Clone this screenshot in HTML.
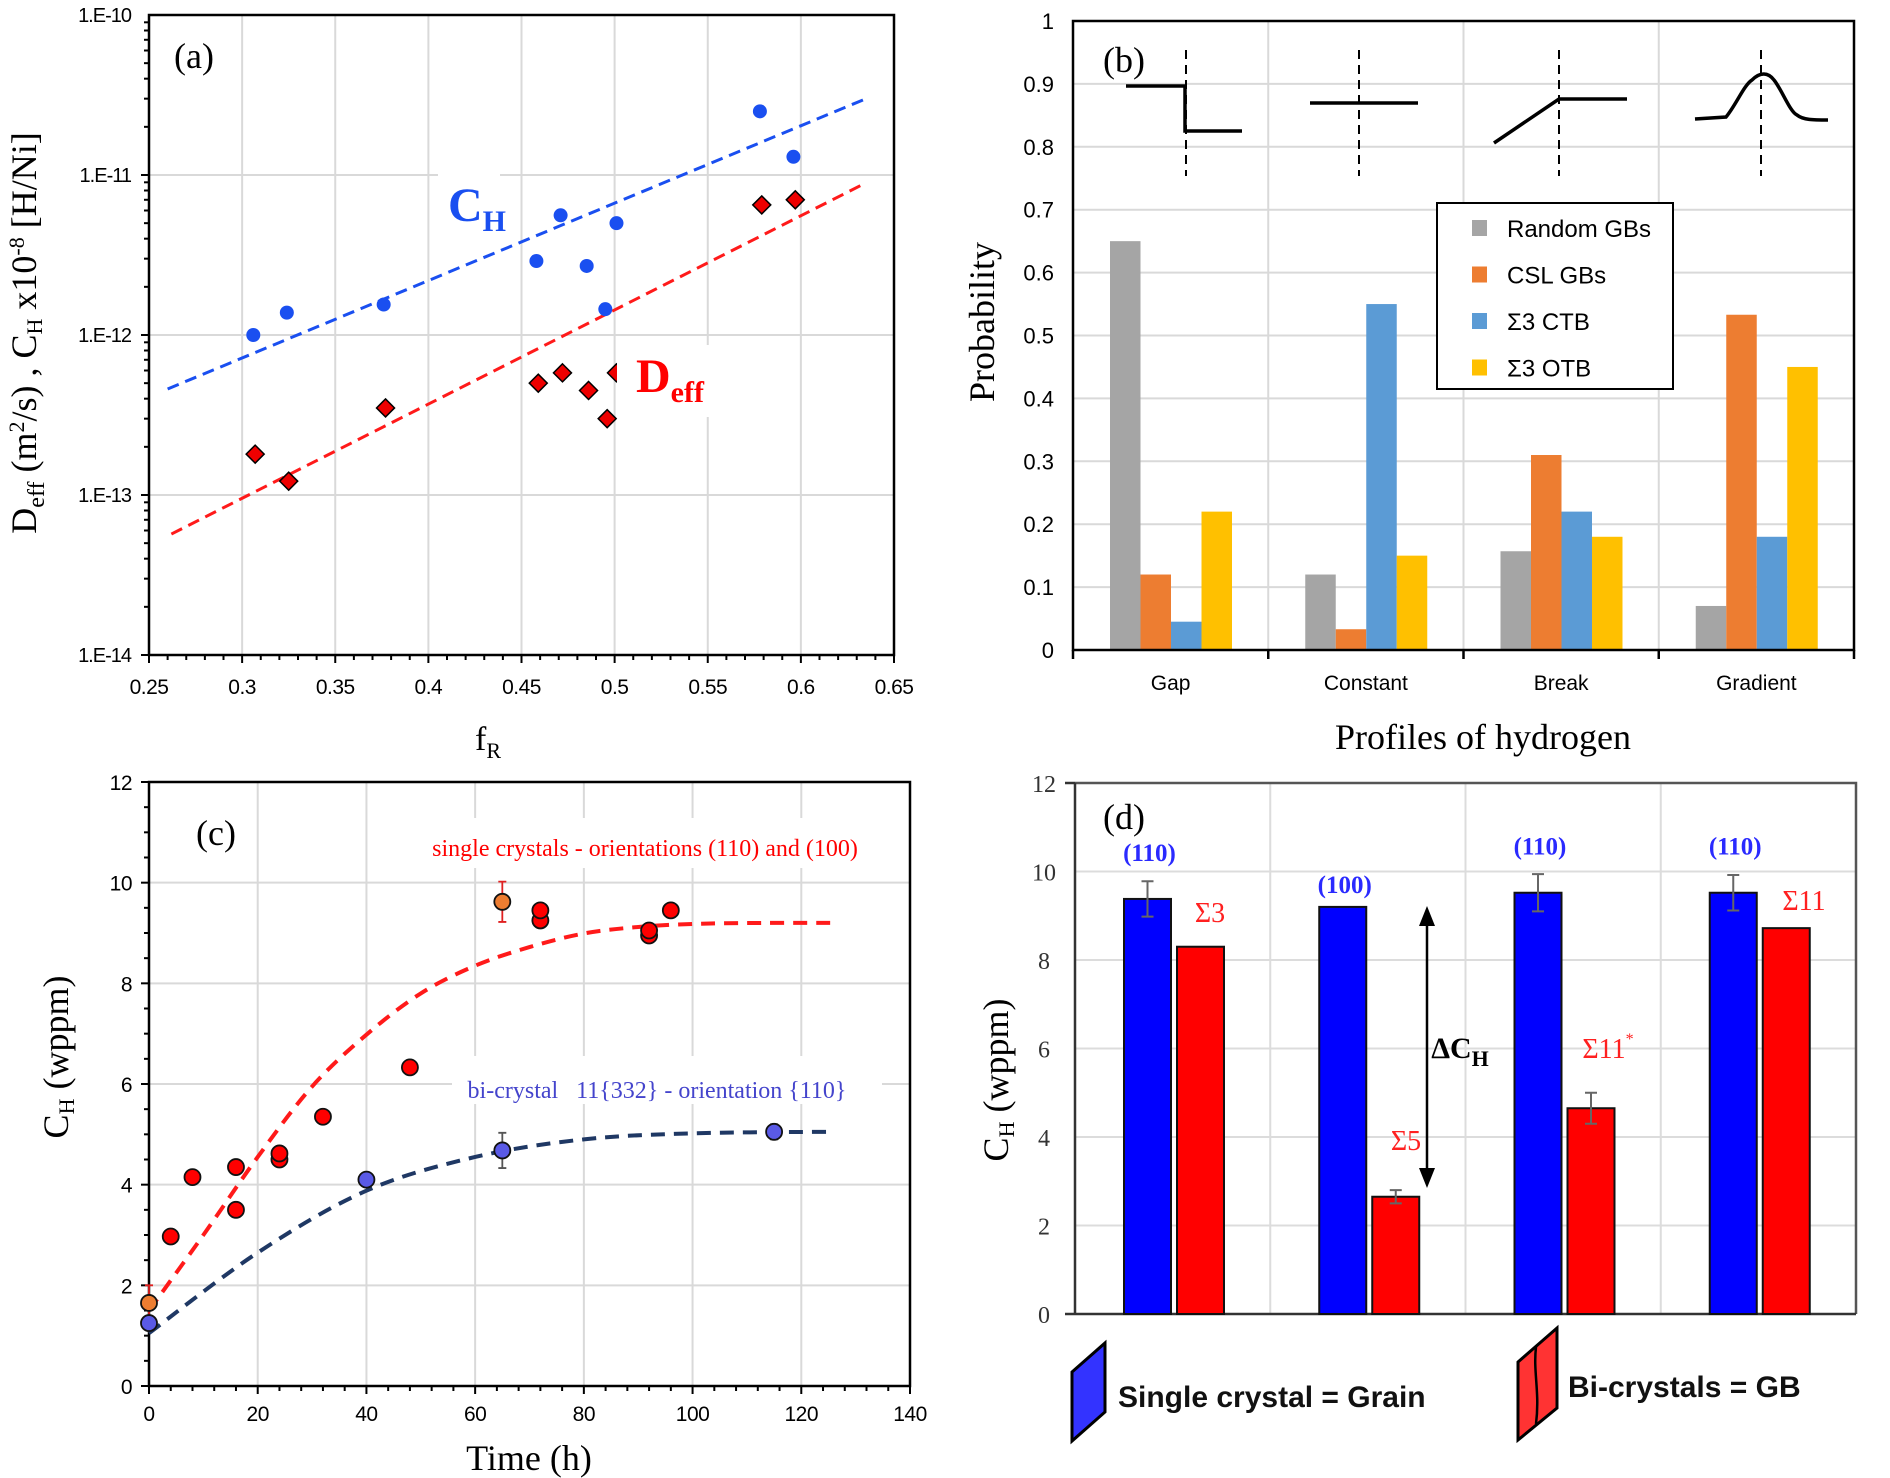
<!DOCTYPE html>
<html><head><meta charset="utf-8">
<style>
html,body{margin:0;padding:0;background:#fff;}
svg{display:block;}
.serif{font-family:"Liberation Serif","DejaVu Serif",serif;}
.sans{font-family:"Liberation Sans","DejaVu Sans",sans-serif;}
</style></head>
<body>
<svg id="fig" xmlns="http://www.w3.org/2000/svg" width="1890" height="1478" viewBox="0 0 1890 1478">
<rect x="0" y="0" width="1890" height="1478" fill="#fff"/>
<g id="pa"></g>
<g id="pb"></g>
<g id="pc"></g>
<g id="pd"></g>

<!-- static texts panel a -->
<text class="serif" x="194" y="68" font-size="36" text-anchor="middle">(a)</text>
<text class="serif" x="488" y="750" font-size="34" text-anchor="middle">f<tspan font-size="22" dy="8">R</tspan></text>
<text class="serif" transform="translate(36,333) rotate(-90)" font-size="36" text-anchor="middle">D<tspan font-size="24" dy="8">eff</tspan><tspan dy="-8"> (m</tspan><tspan font-size="22" dy="-12">2</tspan><tspan dy="12">/s)  , C</tspan><tspan font-size="22" dy="6">H</tspan><tspan dy="-6"> x10</tspan><tspan font-size="22" dy="-12">-8</tspan><tspan dy="12"> [H/Ni]</tspan></text>
<text class="serif" x="448" y="221" font-size="48" font-weight="bold" fill="#1a4ff0">C<tspan font-size="30" dy="10">H</tspan></text>
<text class="serif" x="636" y="392" font-size="48" font-weight="bold" fill="#ff0000">D<tspan font-size="30" dy="10">eff</tspan></text>

<!-- static texts panel b -->
<text class="serif" x="1124" y="72" font-size="36" text-anchor="middle">(b)</text>
<text class="serif" transform="translate(994,322) rotate(-90)" font-size="36" text-anchor="middle">Probability</text>
<text class="serif" x="1483" y="749" font-size="36" text-anchor="middle">Profiles of hydrogen</text>

<!-- static texts panel c -->
<text class="serif" x="216" y="845" font-size="36" text-anchor="middle">(c)</text>
<text class="serif" x="645" y="867" font-size="24" fill="#ff0000" text-anchor="middle" id="redlab">single crystals - orientations (110) and (100)</text>
<text class="serif" x="657" y="1107" font-size="24" fill="#4444cc" text-anchor="middle" xml:space="preserve" id="bluelab">bi-crystal   11{332} - orientation {110}</text>
<text class="serif" x="529" y="1470" font-size="36" text-anchor="middle">Time (h)</text>
<text class="serif" transform="translate(68,1057) rotate(-90)" font-size="36" text-anchor="middle">C<tspan font-size="22" dy="6">H</tspan><tspan dy="-6"> (wppm)</tspan></text>

<!-- static texts panel d -->
<text class="serif" x="1124" y="829" font-size="36" text-anchor="middle">(d)</text>
<text class="serif" transform="translate(1008,1080) rotate(-90)" font-size="36" text-anchor="middle">C<tspan font-size="22" dy="6">H</tspan><tspan dy="-6"> (wppm)</tspan></text>
<text class="serif" x="1460" y="1058" font-size="30" font-weight="bold" text-anchor="middle">ΔC<tspan font-size="22" dy="8">H</tspan></text>
<g>
<line x1="1427" y1="918" x2="1427" y2="1175" stroke="#000" stroke-width="2.5"/>
<polygon points="1427,906 1419,926 1435,926" fill="#000"/>
<polygon points="1427,1188 1419,1168 1435,1168" fill="#000"/>
</g>
<g>
<polygon points="1072,1372 1105,1343 1105,1412 1072,1441" fill="#3333ff" stroke="#000" stroke-width="3"/>
<text class="sans" x="1118" y="1407" font-size="30" font-weight="bold" fill="#111">Single crystal = Grain</text>
</g>
<g>
<polygon points="1518,1362 1557,1328 1557,1408 1518,1440" fill="#ff3333" stroke="#000" stroke-width="3"/>
<path d="M1536,1347 C1533,1372 1540,1392 1536,1424" fill="none" stroke="#000" stroke-width="2.5"/>
<text class="sans" x="1568" y="1397" font-size="30" font-weight="bold" fill="#111">Bi-crystals = GB</text>
</g>
</svg>

<script>
// ---------- Panel (a) data ----------
const aChX = [0.306, 0.324, 0.376, 0.458, 0.471, 0.485, 0.495, 0.501, 0.578, 0.596];
const aChY = [1.0e-12, 1.38e-12, 1.55e-12, 2.9e-12, 5.6e-12, 2.7e-12, 1.45e-12, 5.0e-12, 2.5e-11, 1.3e-11];
const aDeffX = [0.307, 0.325, 0.377, 0.459, 0.472, 0.486, 0.496, 0.501, 0.579, 0.597];
const aDeffY = [1.8e-13, 1.22e-13, 3.5e-13, 5.0e-13, 5.8e-13, 4.5e-13, 3.0e-13, 5.8e-13, 6.5e-12, 7.0e-12];
const aChFitX = [0.26, 0.635];
const aChFitY = [4.6e-13, 3.0e-11];
const aDeffFitX = [0.262, 0.633];
const aDeffFitY = [5.7e-14, 8.7e-12];
const aXTicks = [0.25, 0.3, 0.35, 0.4, 0.45, 0.5, 0.55, 0.6, 0.65];
const aXTickLabels = ["0.25","0.3","0.35","0.4","0.45","0.5","0.55","0.6","0.65"];
const aYTickExp = [-14, -13, -12, -11, -10];
const aYTickLabels = ["1.E-14","1.E-13","1.E-12","1.E-11","1.E-10"];

// ---------- Panel (b) data ----------
const bCategories = ["Gap", "Constant", "Break", "Gradient"];
const bSeriesNames = ["Random GBs", "CSL GBs", "Σ3 CTB", "Σ3 OTB"];
const bRandom = [0.65, 0.12, 0.157, 0.07];
const bCSL = [0.12, 0.033, 0.31, 0.533];
const bCTB = [0.045, 0.55, 0.22, 0.18];
const bOTB = [0.22, 0.15, 0.18, 0.45];
const bYTicks = [0, 0.1, 0.2, 0.3, 0.4, 0.5, 0.6, 0.7, 0.8, 0.9, 1];
const bYTickLabels = ["0","0.1","0.2","0.3","0.4","0.5","0.6","0.7","0.8","0.9","1"];

// ---------- Panel (c) data ----------
const cRedT = [4, 8, 16, 16, 24, 24, 32, 48, 72, 72, 92, 92, 96];
const cRedV = [2.97, 4.15, 4.35, 3.5, 4.5, 4.62, 5.35, 6.33, 9.25, 9.45, 8.95, 9.05, 9.45];
const cOrangeT = [0, 65];
const cOrangeV = [1.65, 9.62];
const cOrangeErr = [0.35, 0.4];
const cBlueT = [0, 40, 65, 115];
const cBlueV = [1.25, 4.1, 4.68, 5.05];
const cBlueErr = [0, 0, 0.35, 0.15];
const cRedFitT = [0, 10, 20, 30, 40, 50, 60, 70, 80, 90, 100, 113, 126];
const cRedFitV = [1.5, 3.0, 4.55, 5.95, 6.98, 7.8, 8.35, 8.72, 8.99, 9.12, 9.18, 9.2, 9.2];
const cBlueFitT = [0, 20, 40, 60, 80, 100, 125];
const cBlueFitV = [1.05, 2.65, 3.88, 4.55, 4.9, 5.02, 5.05];
const cXTicks = [0, 20, 40, 60, 80, 100, 120, 140];
const cYTicks = [0, 2, 4, 6, 8, 10, 12];

// ---------- Panel (d) data ----------
const dGroups = ["Σ3", "Σ5", "Σ11*", "Σ11"];
const dOrient = ["(110)", "(100)", "(110)", "(110)"];
const dSingle = [9.38, 9.2, 9.52, 9.52];
const dSingleErr = [0.4, 0, 0.42, 0.4];
const dBi = [8.3, 2.65, 4.65, 8.72];
const dBiErr = [0, 0.15, 0.35, 0];
const dYTicks = [0, 2, 4, 6, 8, 10, 12];

const NS = "http://www.w3.org/2000/svg";
function mk(tag, attrs, parent) {
  const e = document.createElementNS(NS, tag);
  for (const k in attrs) e.setAttribute(k, attrs[k]);
  parent.appendChild(e);
  return e;
}
function smooth(pts) {
  let d = "M" + pts[0][0] + "," + pts[0][1];
  for (let i = 0; i < pts.length - 1; i++) {
    const p0 = pts[Math.max(0, i - 1)], p1 = pts[i], p2 = pts[i + 1], p3 = pts[Math.min(pts.length - 1, i + 2)];
    const c1x = p1[0] + (p2[0] - p0[0]) / 6, c1y = p1[1] + (p2[1] - p0[1]) / 6;
    const c2x = p2[0] - (p3[0] - p1[0]) / 6, c2y = p2[1] - (p3[1] - p1[1]) / 6;
    d += " C" + c1x + "," + c1y + " " + c2x + "," + c2y + " " + p2[0] + "," + p2[1];
  }
  return d;
}

// ================= Panel A =================
(function () {
  const g = document.getElementById("pa");
  const L = 149, R = 894, B = 655, DEC = 160;
  const xa = v => L + (v - 0.25) / 0.4 * (R - L);
  const ya = v => B - (Math.log10(v) + 14) * DEC;
  const yTop = B - 4 * DEC;
  aXTicks.forEach((t, i) => {
    if (i > 0 && i < aXTicks.length - 1) {
      const ln = mk("line", {x1: xa(t), x2: xa(t), y1: yTop, y2: B, stroke: "#d9d9d9", "stroke-width": 2}, g);
      
      
    }
  });
  aYTickExp.forEach((e, i) => {
    if (i > 0 && i < aYTickExp.length - 1) {
      const ln = mk("line", {x1: L, x2: R, y1: ya(Math.pow(10, e)), y2: ya(Math.pow(10, e)), stroke: "#d9d9d9", "stroke-width": 2}, g);
      
      
    }
  });
  const wb = mk("rect", {x: 438, y: 168, width: 62, height: 70, fill: "#fff"}, g);
  
  
  const wb2 = mk("rect", {x: 617, y: 345, width: 100, height: 72, fill: "#fff"}, g);
  
  
  const fr = mk("rect", {x: L, y: yTop, width: R - L, height: B - yTop, fill: "none", stroke: "#000", "stroke-width": 2.5}, g);
  
  
  for (let v = 0.25; v <= 0.6501; v += 0.01) {
    const major = Math.abs(v * 20 - Math.round(v * 20)) < 1e-6;
    const t = mk("line", {x1: xa(v), x2: xa(v), y1: B, y2: B + (major ? 8 : 5), stroke: "#000", "stroke-width": 2}, g);
    
    
  }
  for (let e = -14; e < -10; e++) {
    for (let m = 1; m < 10; m++) {
      const yy = ya(m * Math.pow(10, e));
      const t = mk("line", {x1: L - (m === 1 ? 8 : 5), x2: L, y1: yy, y2: yy, stroke: "#000", "stroke-width": 2}, g);
      
      
    }
  }
  aXTickLabels.forEach((s, i) => {
    const t = mk("text", {x: xa(aXTicks[i]), y: 694, "font-size": 21, "text-anchor": "middle", "font-family": "Liberation Sans, sans-serif", "letter-spacing": "-0.5"}, g);
    t.textContent = s;
    
    
  });
  aYTickLabels.forEach((s, i) => {
    const t = mk("text", {x: 131, y: ya(Math.pow(10, aYTickExp[i])) + 7, "font-size": 20, "text-anchor": "end", "font-family": "Liberation Sans, sans-serif", "letter-spacing": "-1"}, g);
    t.textContent = s;
    
    
  });
  const f1 = mk("line", {x1: xa(aChFitX[0]), y1: ya(aChFitY[0]), x2: xa(aChFitX[1]), y2: ya(aChFitY[1]), stroke: "#1a4ff0", "stroke-width": 3, "stroke-dasharray": "12,7"}, g);
  
  
  const f2 = mk("line", {x1: xa(aDeffFitX[0]), y1: ya(aDeffFitY[0]), x2: xa(aDeffFitX[1]), y2: ya(aDeffFitY[1]), stroke: "#ff1a1a", "stroke-width": 3, "stroke-dasharray": "12,7"}, g);
  
  
  aChX.forEach((x, i) => {
    const c = mk("circle", {cx: xa(x), cy: ya(aChY[i]), r: 7, fill: "#1a4ff0"}, g);
    
    
  });
  aDeffX.forEach((x, i) => {
    const cx = xa(x), cy = ya(aDeffY[i]), s = 9;
    const p = mk("polygon", {points: cx + "," + (cy - s) + " " + (cx + s) + "," + cy + " " + cx + "," + (cy + s) + " " + (cx - s) + "," + cy, fill: "#ee0000", stroke: "#000", "stroke-width": 1.5}, g);
    
    
  });
  // label mask over partially hidden point
  const wb3 = mk("rect", {x: 617, y: 360, width: 10, height: 30, fill: "#fff"}, g);
  
  
})();

// ================= Panel B =================
(function () {
  const g = document.getElementById("pb");
  const L = 1073, R = 1854, B = 650, T = 21;
  const yb = v => B - v * (B - T);
  const gw = (R - L) / bCategories.length, bw = 30.5, off = 37;
  const colors = ["#a5a5a5", "#ed7d31", "#5b9bd5", "#ffc000"];
  const series = [bRandom, bCSL, bCTB, bOTB];
  bYTicks.forEach((v, i) => {
    if (i > 0) {
      const ln = mk("line", {x1: L, x2: R, y1: yb(v), y2: yb(v), stroke: "#d9d9d9", "stroke-width": 2}, g);
      
      
    }
    const t = mk("text", {x: 1054, y: yb(v) + 8, "font-size": 22, "text-anchor": "end", "font-family": "Liberation Sans, sans-serif"}, g);
    t.textContent = bYTickLabels[i];
    
    
  });
  for (let k = 1; k < bCategories.length; k++) {
    const ln = mk("line", {x1: L + k * gw, x2: L + k * gw, y1: T, y2: B, stroke: "#d9d9d9", "stroke-width": 2}, g);
    
    
  }
  bCategories.forEach((c, k) => {
    series.forEach((s, j) => {
      const r = mk("rect", {x: L + k * gw + off + j * bw, y: yb(s[k]), width: bw, height: B - yb(s[k]), fill: colors[j]}, g);
      
      
    });
    const t = mk("text", {x: L + k * gw + gw / 2, y: 690, "font-size": 21, "text-anchor": "middle", "font-family": "Liberation Sans, sans-serif"}, g);
    t.textContent = c;
    
    
  });
  const fr = mk("rect", {x: L, y: T, width: R - L, height: B - T, fill: "none", stroke: "#000", "stroke-width": 2.5}, g);
  
  
  for (let k = 0; k <= bCategories.length; k++) {
    const t = mk("line", {x1: L + k * gw, x2: L + k * gw, y1: B, y2: B + 9, stroke: "#000", "stroke-width": 2.5}, g);
    
    
  }
  const icons = [
    ["M1126,86 L1185,86 L1185,131 L1242,131", 1186],
    ["M1310,103 L1418,103", 1359],
    ["M1494,143 L1559,99 L1627,99", 1559],
    ["M1695,119 L1726,117 C1736,105 1744,85 1752,80 C1760,72 1768,72 1774,80 C1782,90 1790,112 1797,115 C1803,120 1813,120 1828,120", 1761]
  ];
  icons.forEach((ic, k) => {
    const d = mk("line", {x1: ic[1], x2: ic[1], y1: 50, y2: 176, stroke: "#000", "stroke-width": 2, "stroke-dasharray": "9,6"}, g);
    
    
    const p = mk("path", {d: ic[0], fill: "none", stroke: "#000", "stroke-width": 3.5}, g);
    
    
  });
  const lg = mk("g", {}, g);
  
  
  const box = mk("rect", {x: 1437, y: 203, width: 236, height: 186, fill: "#fff", stroke: "#000", "stroke-width": 2}, lg);
  
  
  bSeriesNames.forEach((n, j) => {
    const y = 228 + j * 46.5;
    const sw = mk("rect", {x: 1472, y: y - 8, width: 15, height: 16, fill: colors[j]}, lg);
    
    
    const t = mk("text", {x: 1507, y: y + 9, "font-size": 24, "font-family": "Liberation Sans, sans-serif"}, lg);
    t.textContent = n;
    
    
  });
})();

// ================= Panel C =================
(function () {
  const g = document.getElementById("pc");
  const L = 149, R = 910, B = 1386, T = 782;
  const xc = t => L + t / 140 * (R - L);
  const yc = v => B - v / 12 * (B - T);
  cXTicks.forEach((t, i) => {
    if (i > 0 && i < cXTicks.length - 1) {
      const ln = mk("line", {x1: xc(t), x2: xc(t), y1: T, y2: B, stroke: "#d9d9d9", "stroke-width": 2}, g);
      
      
    }
    const tx = mk("text", {x: xc(t), y: 1421, "font-size": 21, "text-anchor": "middle", "font-family": "Liberation Sans, sans-serif", "letter-spacing": "-0.5"}, g);
    tx.textContent = String(t);
    
    
  });
  cYTicks.forEach((v, i) => {
    if (i > 0 && i < cYTicks.length - 1) {
      const ln = mk("line", {x1: L, x2: R, y1: yc(v), y2: yc(v), stroke: "#d9d9d9", "stroke-width": 2}, g);
      
      
    }
    const tx = mk("text", {x: 132, y: yc(v) + 8, "font-size": 21, "text-anchor": "end", "font-family": "Liberation Sans, sans-serif", "letter-spacing": "-0.5"}, g);
    tx.textContent = String(v);
    
    
  });
  const m1 = mk("rect", {x: 422, y: 818, width: 478, height: 50, fill: "#fff"}, g);
  
  
  const m2 = mk("rect", {x: 452, y: 1056, width: 430, height: 48, fill: "#fff"}, g);
  
  
  const fr = mk("rect", {x: L, y: T, width: R - L, height: B - T, fill: "none", stroke: "#000", "stroke-width": 2.5}, g);
  
  
  for (let t = 0; t <= 140; t += 4) {
    const tk = mk("line", {x1: xc(t), x2: xc(t), y1: B, y2: B + (t % 20 === 0 ? 8 : 5), stroke: "#000", "stroke-width": 2}, g);
    
    
  }
  for (let v = 0; v <= 12.001; v += 0.5) {
    const tk = mk("line", {x1: L - (v % 2 === 0 ? 8 : 5), x2: L, y1: yc(v), y2: yc(v), stroke: "#000", "stroke-width": 2}, g);
    
    
  }
  const rf = mk("path", {d: smooth(cRedFitT.map((t, i) => [xc(t), yc(cRedFitV[i])])), fill: "none", stroke: "#ff1a1a", "stroke-width": 4, "stroke-dasharray": "14,9"}, g);
  
  
  const bf = mk("path", {d: smooth(cBlueFitT.map((t, i) => [xc(t), yc(cBlueFitV[i])])), fill: "none", stroke: "#1f3864", "stroke-width": 4, "stroke-dasharray": "14,9"}, g);
  
  
  function errbar(t, v, e, col) {
    if (!e) return;
    const x = xc(t);
    const l = mk("path", {d: "M" + x + "," + yc(v + e) + " L" + x + "," + yc(v - e) + " M" + (x - 4) + "," + yc(v + e) + " L" + (x + 4) + "," + yc(v + e) + " M" + (x - 4) + "," + yc(v - e) + " L" + (x + 4) + "," + yc(v - e), stroke: col, "stroke-width": 1.8, fill: "none"}, g);
    
    
  }
  cOrangeT.forEach((t, i) => errbar(t, cOrangeV[i], cOrangeErr[i], "#e02020"));
  cBlueT.forEach((t, i) => errbar(t, cBlueV[i], cBlueErr[i], "#555"));
  cRedT.forEach((t, i) => {
    const c = mk("circle", {cx: xc(t), cy: yc(cRedV[i]), r: 8, fill: "#ff0000", stroke: "#111", "stroke-width": 1.8}, g);
    
    
  });
  cOrangeT.forEach((t, i) => {
    const c = mk("circle", {cx: xc(t), cy: yc(cOrangeV[i]), r: 8, fill: "#ed7d31", stroke: "#111", "stroke-width": 1.8}, g);
    
    
  });
  cBlueT.forEach((t, i) => {
    const c = mk("circle", {cx: xc(t), cy: yc(cBlueV[i]), r: 8, fill: "#5a5ae6", stroke: "#111", "stroke-width": 1.8}, g);
    
    
  });
  // move static labels above masks
  const svg = document.getElementById("fig");
  const rl = document.getElementById("redlab");
  rl.setAttribute("y", 856);
  svg.appendChild(rl);
  const bl = document.getElementById("bluelab");
  bl.setAttribute("y", 1098);
  svg.appendChild(bl);
})();

// ================= Panel D =================
(function () {
  const g = document.getElementById("pd");
  const L = 1075, R = 1856, B = 1314, T = 783;
  const yd = v => B - v / 12 * (B - T);
  const gw = (R - L) / dGroups.length, bw = 47, off = 49, gap = 6;
  dYTicks.forEach((v, i) => {
    if (i > 0 && i < dYTicks.length - 1) {
      const ln = mk("line", {x1: L, x2: R, y1: yd(v), y2: yd(v), stroke: "#dcdcdc", "stroke-width": 2}, g);
      
      
    }
    const t = mk("text", {x: 1044, y: yd(v) + 9, "font-size": 24, "text-anchor": "middle", "font-family": "Liberation Serif, serif", fill: "#333"}, g);
    t.textContent = String(v);
    
    
  });
  for (let k = 1; k < dGroups.length; k++) {
    const ln = mk("line", {x1: L + k * gw, x2: L + k * gw, y1: T, y2: B, stroke: "#dcdcdc", "stroke-width": 2}, g);
    
    
  }
  const fr = mk("path", {d: "M" + L + "," + T + " L" + R + "," + T + " L" + R + "," + B, fill: "none", stroke: "#555", "stroke-width": 2.5}, g);
  
  
  const ax = mk("path", {d: "M" + L + "," + T + " L" + L + "," + B + " L" + R + "," + B + " M" + (L - 10) + "," + T + " L" + L + "," + T + " M" + (L - 10) + "," + B + " L" + L + "," + B, fill: "none", stroke: "#333", "stroke-width": 2.5}, g);
  
  
  function eb(x, v, e) {
    if (!e) return;
    const p = mk("path", {d: "M" + x + "," + yd(v + e) + " L" + x + "," + yd(v - e) + " M" + (x - 6) + "," + yd(v + e) + " L" + (x + 6) + "," + yd(v + e) + " M" + (x - 6) + "," + yd(v - e) + " L" + (x + 6) + "," + yd(v - e), stroke: "#666", "stroke-width": 2, fill: "none"}, g);
    
    
  }
  const sigPos = [[1210, 922], [1406, 1150], [1608, 1058], [1804, 910]];
  dGroups.forEach((name, k) => {
    const x0 = L + k * gw + off, x1 = x0 + bw + gap;
    const b1 = mk("rect", {x: x0, y: yd(dSingle[k]), width: bw, height: B - yd(dSingle[k]), fill: "#0000ff", stroke: "#111", "stroke-width": 2}, g);
    
    
    const b2 = mk("rect", {x: x1, y: yd(dBi[k]), width: bw, height: B - yd(dBi[k]), fill: "#ff0000", stroke: "#111", "stroke-width": 2}, g);
    
    
    eb(x0 + bw / 2, dSingle[k], dSingleErr[k]);
    eb(x1 + bw / 2, dBi[k], dBiErr[k]);
    const ot = mk("text", {x: x0 + bw / 2 + 2, y: yd(dSingle[k]) - (k === 1 ? 14 : 38), "font-size": 25, "font-weight": "bold", "text-anchor": "middle", fill: "#2a2aff", "font-family": "Liberation Serif, serif"}, g);
    ot.textContent = dOrient[k];
    
    
    const st = mk("text", {x: sigPos[k][0], y: sigPos[k][1], "font-size": 28, "text-anchor": "middle", fill: "#ff2020", "font-family": "Liberation Serif, serif"}, g);
    st.textContent = name.replace("*", "");
    if (name.indexOf("*") >= 0) {
      const ts = mk("tspan", {dy: -14, "font-size": 16}, st);
      ts.textContent = "*";
    }
    
    
  });
})();
</script>
</body></html>
